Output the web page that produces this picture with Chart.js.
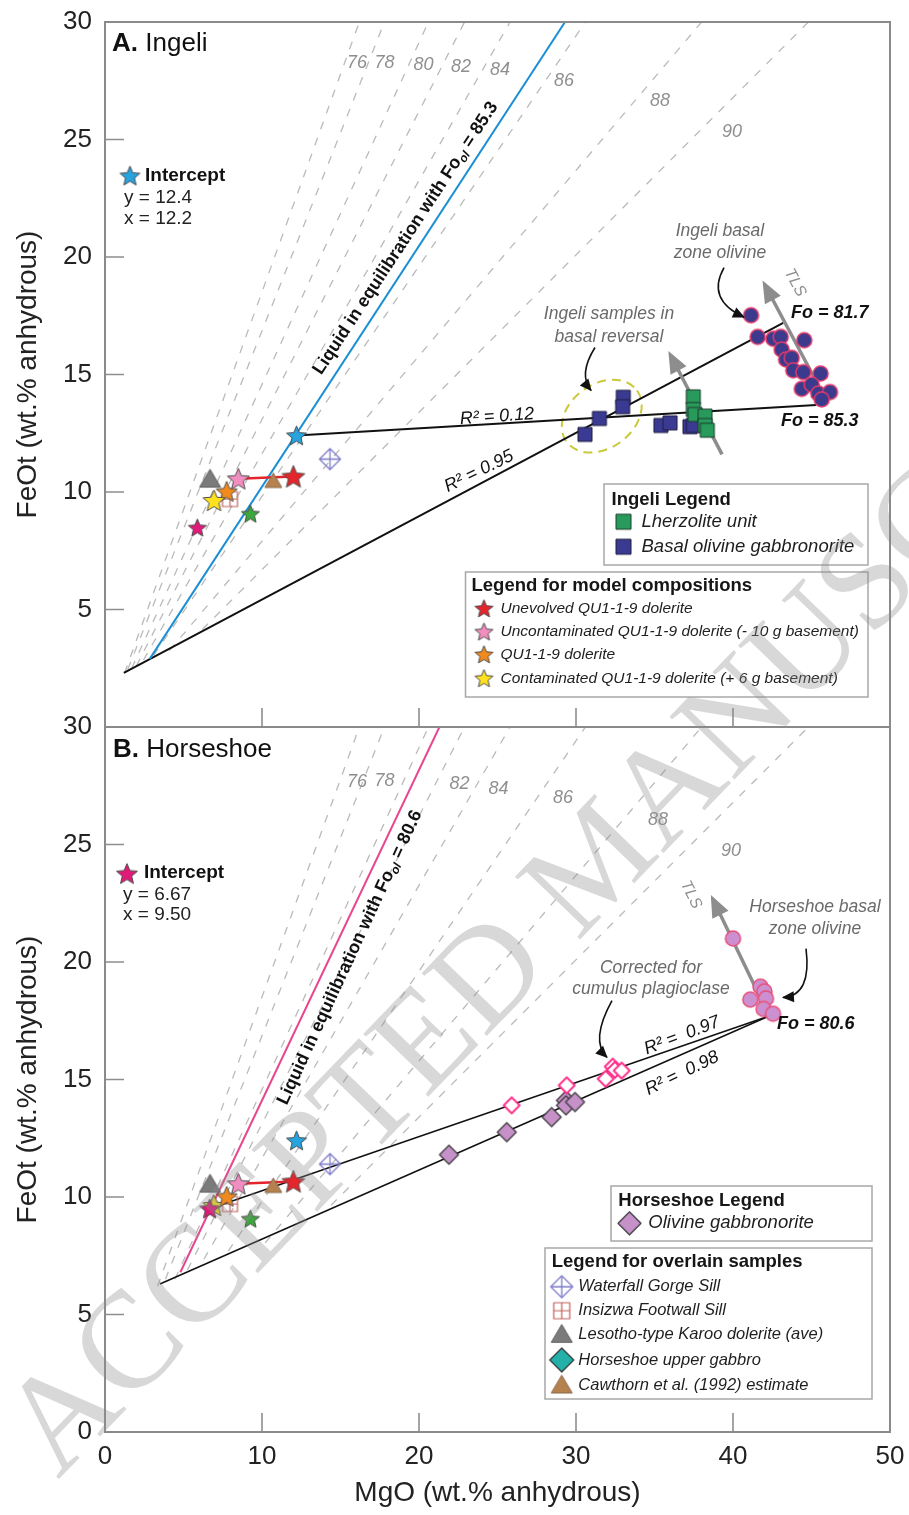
<!DOCTYPE html>
<html lang="en">
<head>
<meta charset="utf-8">
<title>FeOt vs MgO: Ingeli and Horseshoe</title>
<script src="https://cdn.jsdelivr.net/npm/chart.js@4.4.1/dist/chart.umd.min.js"></script>
<style>
  html, body { margin: 0; padding: 0; background: #fff; }
  #stage { position: relative; width: 909px; height: 1515px; overflow: hidden; background: #fff; }
  #stage canvas { position: absolute; left: 0; }
  #panelA { top: 0; z-index: 1; }
  #panelB { top: 700px; z-index: 2; }
  #stamp { top: 0; z-index: 3; pointer-events: none; }
</style>
</head>
<body>
<div id="stage">
  <canvas id="panelA" width="909" height="750" style="width:909px;height:750px"></canvas>
  <canvas id="panelB" width="909" height="815" style="width:909px;height:815px"></canvas>
  <canvas id="stamp" width="909" height="1515" style="width:909px;height:1515px"></canvas>
</div>
<script>
// ---------------------------------------------------------------------------
// Data (MgO, FeOt in wt.% anhydrous)
// ---------------------------------------------------------------------------
const mgoTicks = [0, 10, 20, 30, 40, 50];
const feoTicks = [0, 5, 10, 15, 20, 25, 30];

// Olivine-liquid Fo isopleths: start point and MgO where each leaves the panel top
const foValues = [76, 78, 80, 82, 84, 86, 88, 90];
const foTopMgO = [16.2, 17.8, 20.6, 22.9, 25.8, 30.6, 38.0, 44.8];
const foStartA = [[1.25, 2.3], [1.45, 2.45], [1.7, 2.5], [2.0, 2.6], [2.45, 2.85], [3.1, 3.05], [4.1, 3.25], [6.2, 4.15]];
const foStartB = [[3.35, 6.2], [3.85, 6.5], [4.45, 6.5], [5.25, 6.9], [6.3, 7.35], [7.85, 7.7], [10.2, 8.05], [14.4, 9.65]];
const foLabelA = [[16.05, 28.26], [17.8, 28.26], [20.29, 28.19], [22.68, 28.09], [25.16, 27.96], [29.24, 27.49], [35.35, 26.62], [39.94, 25.33]];
const foLabelB = [[16.05, 27.66], [17.8, 27.71], null, [22.58, 27.58], [25.06, 27.37], [29.17, 26.99], [35.22, 26.05], [39.87, 24.73]];

// Liquids in equilibrium with the most primitive olivine
const liquidFo = ['85.3', '80.6'];
const liquidA = [[2.85, 2.9], [29.3, 30]];
const liquidB = [[4.8, 6.8], [21.3, 30]];

// Regression lines
const fitA95 = [[1.2, 2.3], [43.2, 17.2]];
const fitA12 = [[12.2, 12.4], [45.3, 13.7]];
const fitB98 = [[3.5, 6.3], [42.3, 17.7]];
const fitB97 = [[6.67, 9.5], [42.3, 17.7]];
const endFoA = ['81.7', '85.3'];
const endFoB = ['80.6'];
const r2A = ['0.12', '0.95'];
const r2B = ['0.97', '0.98'];

// Trend-line (TLS) arrows
const tlsA1 = [[39.3, 11.6], [36.0, 15.85]];
const tlsA2 = [[45.7, 14.2], [42.0, 18.85]];
const tlsB = [[42.3, 17.7], [38.7, 22.7]];

// Intercepts
const interceptIngeli = [12.2, 12.4];
const interceptHorseshoe = [6.67, 9.50];
const horseshoeStarInA = [5.88, 8.48];

// Model compositions
const modelNames = ['Unevolved QU1-1-9 dolerite', 'Uncontaminated QU1-1-9 dolerite (- 10 g basement)', 'QU1-1-9 dolerite', 'Contaminated QU1-1-9 dolerite (+ 6 g basement)'];
const modelMgO = [12.0, 8.49, 7.75, 6.94];
const modelFeO = [10.66, 10.56, 10.02, 9.64];
const greenStar = [9.26, 9.07];

// Overlain samples
const overlainNames = ['Waterfall Gorge Sill', 'Insizwa Footwall Sill', 'Lesotho-type Karoo dolerite (ave)', 'Horseshoe upper gabbro', 'Cawthorn et al. (1992) estimate'];
const waterfallGorge = [14.33, 11.4];
const insizwaFootwall = [7.96, 9.7];
const lesothoDolerite = [6.69, 10.55];
const cawthorn1992 = [10.72, 10.47];

// Ingeli
const lherzMgO = [37.47, 37.47, 37.58, 38.22, 38.22, 38.36];
const lherzFeO = [14.05, 13.51, 13.30, 13.23, 12.83, 12.63];
const bognMgO = [30.57, 31.49, 33.01, 32.97, 35.41, 35.99, 37.26, 37.47];
const bognFeO = [12.45, 13.13, 14.03, 13.63, 12.83, 12.94, 12.78, 12.83];
const ingeliOlMgO = [41.15, 41.57, 42.57, 43.04, 44.54, 43.10, 43.38, 43.74, 43.84, 44.48, 45.58, 44.38, 45.01, 45.43, 46.18, 45.65];
const ingeliOlFeO = [17.52, 16.6, 16.52, 16.6, 16.46, 16.06, 15.64, 15.71, 15.18, 15.10, 15.04, 14.39, 14.57, 14.19, 14.25, 13.94];

// Horseshoe
const hsGnMgO = [21.91, 25.59, 28.45, 29.36, 29.36, 29.94];
const hsGnFeO = [11.8, 12.76, 13.4, 14.11, 13.9, 14.04];
const hsCorrMgO = [25.9, 29.41, 31.89, 32.34, 32.48, 32.91];
const hsCorrFeO = [13.9, 14.75, 15.03, 15.55, 15.41, 15.38];
const hsOlMgO = [40.0, 41.75, 42.0, 42.1, 41.1, 41.95, 42.55];
const hsOlFeO = [21.0, 18.95, 18.75, 18.45, 18.4, 18.0, 17.8];

// ---------------------------------------------------------------------------
// Styling helpers
// ---------------------------------------------------------------------------
const FAMILY = "'Liberation Sans', Arial, Helvetica, sans-serif";
const F = spec => spec + ' ' + FAMILY;
const ISO_GRAY = '#8f8f8f';
const NOTE_GRAY = '#6a6a6a';

function makeSymbol(kind, w, fill, stroke, lw) {
  lw = lw || 1;
  const pad = Math.ceil(lw) + 2;
  const S = Math.ceil(w) + 2 * pad;
  const c = document.createElement('canvas');
  c.width = S; c.height = S;
  const g = c.getContext('2d');
  const m = S / 2, r = w / 2;
  g.lineWidth = lw;
  g.lineJoin = 'round';
  g.beginPath();
  if (kind === 'star') {
    for (let i = 0; i < 10; i++) {
      const rr = i % 2 ? r * 0.45 : r;
      const a = -Math.PI / 2 + i * Math.PI / 5;
      g.lineTo(m + rr * Math.cos(a), m + 0.08 * r + rr * Math.sin(a));
    }
    g.closePath();
  } else if (kind === 'circle') {
    g.arc(m, m, r, 0, Math.PI * 2);
  } else if (kind === 'square' || kind === 'squareCross') {
    g.rect(m - r, m - r, w, w);
  } else if (kind === 'diamond' || kind === 'diamondCross') {
    g.moveTo(m, m - r); g.lineTo(m + r, m); g.lineTo(m, m + r); g.lineTo(m - r, m); g.closePath();
  } else if (kind === 'triangle') {
    const h = 0.85 * w;
    g.moveTo(m, m - 0.55 * h); g.lineTo(m + r, m + 0.45 * h); g.lineTo(m - r, m + 0.45 * h); g.closePath();
  }
  if (fill) { g.fillStyle = fill; g.fill(); }
  if (stroke) { g.strokeStyle = stroke; g.stroke(); }
  if (kind === 'diamondCross' || kind === 'squareCross') {
    g.beginPath();
    g.moveTo(m, m - r); g.lineTo(m, m + r);
    g.moveTo(m - r, m); g.lineTo(m + r, m);
    g.stroke();
  }
  return c;
}

const OUT = '#4d4d4d';
const SYM = {
  red: makeSymbol('star', 24, '#e3262b', OUT, 1),
  pink: makeSymbol('star', 23, '#f28dbf', OUT, 1),
  orange: makeSymbol('star', 22, '#f08a1d', OUT, 1),
  yellow: makeSymbol('star', 23, '#ffe11f', OUT, 1),
  green: makeSymbol('star', 19, '#3aa83a', OUT, 1),
  blue: makeSymbol('star', 21, '#27a3dd', OUT, 1),
  magentaA: makeSymbol('star', 19, '#e01a78', OUT, 1),
  magentaB: makeSymbol('star', 21, '#e01a78', OUT, 1),
  grayTri: makeSymbol('triangle', 21, '#7b7b7b', '#5c5c5c', 1),
  brownTri: makeSymbol('triangle', 17, '#b5814f', '#8a6a4a', 1),
  waterfall: makeSymbol('diamondCross', 21, null, '#7f7cc8', 1.3),
  insizwa: makeSymbol('squareCross', 15, null, '#c0625c', 1.2),
  lherz: makeSymbol('square', 14, '#279a5c', '#1e3d2c', 1),
  bogn: makeSymbol('square', 14, '#3b3a92', '#1e1e40', 1),
  olA: makeSymbol('circle', 15, '#3c3a8d', '#e23a6a', 1.5),
  olB: makeSymbol('circle', 15, '#cc8fcf', '#e8507a', 1.5),
  ogn: makeSymbol('diamond', 19, '#c690c9', '#3a3a3a', 1.2),
  corr: makeSymbol('diamond', 16, '#ffffff', '#ff2a88', 1.8),
  // legend and note icons
  lgRed: makeSymbol('star', 19, '#e3262b', OUT, 1),
  lgPink: makeSymbol('star', 19, '#f28dbf', OUT, 1),
  lgOrange: makeSymbol('star', 19, '#f08a1d', OUT, 1),
  lgYellow: makeSymbol('star', 19, '#ffe11f', OUT, 1),
  lgLherz: makeSymbol('square', 15, '#279a5c', '#1e3d2c', 1),
  lgBogn: makeSymbol('square', 15, '#3b3a92', '#1e1e40', 1),
  lgOgn: makeSymbol('diamond', 23, '#c690c9', '#3a3a3a', 1.2),
  lgWaterfall: makeSymbol('diamondCross', 22, null, '#7f7cc8', 1.3),
  lgInsizwa: makeSymbol('squareCross', 16, null, '#c0625c', 1.2),
  lgGrayTri: makeSymbol('triangle', 21, '#7b7b7b', '#5c5c5c', 1),
  lgTeal: makeSymbol('diamond', 24, '#22b0a8', '#333333', 1.2),
  lgBrownTri: makeSymbol('triangle', 21, '#b5814f', '#8a6a4a', 1),
  noteBlue: makeSymbol('star', 21, '#27a3dd', OUT, 1),
  noteMagenta: makeSymbol('star', 22, '#e01a78', OUT, 1)
};

// z: larger values are painted later (on top)
function lineDs(points, color, width, dash, z, extra) {
  return Object.assign({
    data: points.map(p => ({ x: p[0], y: p[1] })),
    showLine: true, pointRadius: 0, borderColor: color, borderWidth: width,
    borderDash: dash || [], fill: false, tension: 0, order: 100 - z
  }, extra || {});
}
function markDs(xs, ys, img, z) {
  return {
    data: xs.map((x, i) => ({ x: x, y: ys[i] })),
    showLine: false, pointStyle: img, pointRadius: 6, order: 100 - z
  };
}
const one = (p, img, z) => markDs([p[0]], [p[1]], img, z);
const tieLine = [[modelMgO[1], modelFeO[1]], [modelMgO[0], modelFeO[0]]];

// ---------------------------------------------------------------------------
// Drawing helpers for the decoration plugin
// ---------------------------------------------------------------------------
function drawRuns(ctx, x, y, runs, align, rotDeg) {
  ctx.save();
  ctx.translate(x, y);
  ctx.rotate(rotDeg * Math.PI / 180);
  ctx.textBaseline = 'middle';
  ctx.textAlign = 'left';
  let total = 0;
  runs.forEach(r => { ctx.font = r.f; r.w = ctx.measureText(r.t).width; total += r.w; });
  let cx = align === 'center' ? -total / 2 : (align === 'right' ? -total : 0);
  runs.forEach(r => {
    ctx.font = r.f;
    ctx.fillStyle = r.c || '#111';
    ctx.fillText(r.t, cx, r.dy || 0);
    cx += r.w;
  });
  ctx.restore();
}

function arrowHead(ctx, fx, fy, tx, ty, len, halfW, color, extend) {
  const dx = tx - fx, dy = ty - fy, L = Math.hypot(dx, dy) || 1;
  const ux = dx / L, uy = dy / L;
  const px = tx + ux * extend, py = ty + uy * extend;
  const bx = px - ux * len, by = py - uy * len;
  ctx.save();
  ctx.beginPath();
  ctx.moveTo(px, py);
  ctx.lineTo(bx - uy * halfW, by + ux * halfW);
  ctx.lineTo(bx + uy * halfW, by - ux * halfW);
  ctx.closePath();
  ctx.fillStyle = color;
  ctx.fill();
  ctx.restore();
}

function drawLegend(ctx, L, top) {
  ctx.save();
  const [x0, y0, x1, y1] = L.box;
  ctx.strokeStyle = '#a8a8a8';
  ctx.lineWidth = 1.5;
  ctx.strokeRect(x0, y0 - top, x1 - x0, y1 - y0);
  ctx.textBaseline = 'middle';
  ctx.textAlign = 'left';
  ctx.fillStyle = '#161616';
  ctx.font = L.titleFont;
  ctx.fillText(L.title, L.titleX, L.titleY - top);
  ctx.font = L.itemFont;
  L.items.forEach(it => {
    const img = it.sym;
    ctx.drawImage(img, L.symX - img.width / 2, it.y - top - img.height / 2);
    ctx.fillStyle = '#1e1e1e';
    ctx.fillText(it.text, L.textX, it.y - top);
  });
  ctx.restore();
}

const panelDecor = {
  id: 'panelDecor',
  beforeDatasetsDraw(chart, _args, o) {
    const ctx = chart.ctx, X = chart.scales.x, Y = chart.scales.y;
    if (o.ellipse) {
      const e = o.ellipse;
      ctx.save();
      ctx.beginPath();
      ctx.ellipse(X.getPixelForValue(e.x), Y.getPixelForValue(e.y), e.rx, e.ry, e.rot * Math.PI / 180, 0, Math.PI * 2);
      ctx.setLineDash([9, 6]);
      ctx.lineWidth = 2;
      ctx.strokeStyle = e.color;
      ctx.stroke();
      ctx.restore();
    }
  },
  afterDatasetsDraw(chart, _args, o) {
    const ctx = chart.ctx, X = chart.scales.x, Y = chart.scales.y;
    const P = (x, y) => [X.getPixelForValue(x), Y.getPixelForValue(y)];
    chart.data.datasets.forEach((ds, i) => {
      if (!ds.arrowHead) return;
      const pts = chart.getDatasetMeta(i).data;
      const a = pts[0], b = pts[pts.length - 1];
      arrowHead(ctx, a.x, a.y, b.x, b.y, 22, 9, ds.borderColor, 4);
    });
    (o.callouts || []).forEach(c => {
      const [x0, y0] = P(c.from[0], c.from[1]);
      const [cx, cy] = P(c.ctrl[0], c.ctrl[1]);
      const [x1, y1] = P(c.to[0], c.to[1]);
      ctx.save();
      ctx.beginPath();
      ctx.moveTo(x0, y0);
      ctx.quadraticCurveTo(cx, cy, x1, y1);
      ctx.lineWidth = 1.6;
      ctx.strokeStyle = '#111';
      ctx.stroke();
      ctx.restore();
      arrowHead(ctx, cx, cy, x1, y1, 12, 5.5, '#111', 1);
    });
    (o.icons || []).forEach(ic => {
      const [x, y] = P(ic.x, ic.y);
      ctx.drawImage(ic.img, x - ic.img.width / 2, y - ic.img.height / 2);
    });
    (o.texts || []).forEach(t => {
      const [x, y] = P(t.x, t.y);
      drawRuns(ctx, x, y, t.runs, t.align || 'left', t.rot || 0);
    });
    (o.legends || []).forEach(L => drawLegend(ctx, L, o.pageTop));
  },
  afterDraw(chart) {
    const ctx = chart.ctx, A = chart.chartArea, X = chart.scales.x, Y = chart.scales.y;
    ctx.save();
    ctx.strokeStyle = '#8e8e8e';
    ctx.lineWidth = 1.6;
    ctx.beginPath();
    feoTicks.slice(1, -1).forEach(v => {
      const y = Y.getPixelForValue(v);
      ctx.moveTo(A.left, y); ctx.lineTo(A.left + 19, y);
    });
    mgoTicks.slice(1, -1).forEach(v => {
      const x = X.getPixelForValue(v);
      ctx.moveTo(x, A.bottom); ctx.lineTo(x, A.bottom - 19);
    });
    ctx.stroke();
    ctx.lineWidth = 2;
    ctx.strokeStyle = '#8a8a8a';
    ctx.strokeRect(A.left, A.top, A.right - A.left, A.bottom - A.top);
    ctx.restore();
  }
};

// ---------------------------------------------------------------------------
// Annotation content
// ---------------------------------------------------------------------------
const liquidRuns = fo => [
  { t: 'Liquid in equilibration with Fo', f: F('bold 18px') },
  { t: 'ol', f: F('italic bold 12px'), dy: 5 },
  { t: ' = ' + fo, f: F('bold 18px') }
];
const foLabelTexts = pos => foValues.map((fo, i) => pos[i] ? {
  x: pos[i][0], y: pos[i][1], align: 'center',
  runs: [{ t: String(fo), f: F('italic 18px'), c: ISO_GRAY }]
} : null).filter(Boolean);
const note = (x, y, t) => ({ x, y, align: 'center', runs: [{ t, f: F('italic 17.5px'), c: NOTE_GRAY }] });
const plain = (x, y, t) => ({ x, y, runs: [{ t, f: F('19px'), c: '#222' }] });

const textsA = [
  { x: 0.45, y: 29.07, runs: [{ t: 'A.', f: F('bold 26px') }, { t: ' Ingeli', f: F('26px') }] },
  { x: 2.55, y: 23.46, runs: [{ t: 'Intercept', f: F('bold 19px') }] },
  plain(1.21, 22.52, 'y = ' + interceptIngeli[1].toFixed(1)),
  plain(1.21, 21.63, 'x = ' + interceptIngeli[0].toFixed(1)),
  ...foLabelTexts(foLabelA),
  { x: 43.95, y: 18.91, rot: 62, align: 'center', runs: [{ t: 'TLS', f: F('italic 16px'), c: ISO_GRAY }] },
  note(39.17, 21.12, 'Ingeli basal'),
  note(39.17, 20.18, 'zone olivine'),
  note(32.1, 17.55, 'Ingeli samples in'),
  note(32.1, 16.61, 'basal reversal'),
  { x: 43.69, y: 17.63, runs: [{ t: 'Fo = ' + endFoA[0], f: F('italic bold 18px') }] },
  { x: 43.06, y: 13.04, runs: [{ t: 'Fo = ' + endFoA[1], f: F('italic bold 18px') }] },
  { x: 24.97, y: 13.21, rot: -4, align: 'center', runs: [{ t: 'R\u00b2 = ' + r2A[0], f: F('italic 18px') }] },
  { x: 23.82, y: 10.88, rot: -26, align: 'center', runs: [{ t: 'R\u00b2 = ' + r2A[1], f: F('italic 18px') }] },
  { x: 19.15, y: 20.8, rot: -56.7, align: 'center', runs: liquidRuns(liquidFo[0]) }
];

const textsB = [
  { x: 0.51, y: 29.03, runs: [{ t: 'B.', f: F('bold 26px') }, { t: ' Horseshoe', f: F('26px') }] },
  { x: 2.48, y: 23.8, runs: [{ t: 'Intercept', f: F('bold 19px') }] },
  plain(1.15, 22.86, 'y = 6.67'),
  plain(1.15, 22.01, 'x = 9.50'),
  ...foLabelTexts(foLabelB),
  { x: 37.32, y: 22.86, rot: 64, align: 'center', runs: [{ t: 'TLS', f: F('italic 16px'), c: ISO_GRAY }] },
  note(45.22, 22.35, 'Horseshoe basal'),
  note(45.22, 21.42, 'zone olivine'),
  note(34.78, 19.76, 'Corrected for'),
  note(34.78, 18.83, 'cumulus plagioclase'),
  { x: 42.8, y: 17.38, runs: [{ t: 'Fo = ' + endFoB[0], f: F('italic bold 18px') }] },
  { x: 36.75, y: 16.87, rot: -21, align: 'center', runs: [{ t: 'R\u00b2 =  ' + r2B[0], f: F('italic 18px') }] },
  { x: 36.75, y: 15.26, rot: -26, align: 'center', runs: [{ t: 'R\u00b2 =  ' + r2B[1], f: F('italic 18px') }] },
  { x: 15.6, y: 20.19, rot: -65.2, align: 'center', runs: liquidRuns(liquidFo[1]) }
];

const legendsA = [
  {
    box: [604, 484, 868, 565], title: 'Ingeli Legend', titleX: 611.5, titleY: 500,
    titleFont: F('bold 18.5px'), itemFont: F('italic 18.5px'), symX: 623.5, textX: 641.5,
    items: [
      { sym: SYM.lgLherz, text: 'Lherzolite unit', y: 521.7 },
      { sym: SYM.lgBogn, text: 'Basal olivine gabbronorite', y: 546.7 }
    ]
  },
  {
    box: [465.5, 572, 868, 697], title: 'Legend for model compositions', titleX: 471.5, titleY: 585.5,
    titleFont: F('bold 18.5px'), itemFont: F('italic 15.5px'), symX: 484, textX: 500.5,
    items: [
      { sym: SYM.lgRed, text: modelNames[0], y: 608.5 },
      { sym: SYM.lgPink, text: modelNames[1], y: 631.7 },
      { sym: SYM.lgOrange, text: modelNames[2], y: 654.5 },
      { sym: SYM.lgYellow, text: modelNames[3], y: 678.3 }
    ]
  }
];

const legendsB = [
  {
    box: [611, 1186, 872, 1241], title: 'Horseshoe Legend', titleX: 618.3, titleY: 1201,
    titleFont: F('bold 18.5px'), itemFont: F('italic 18.5px'), symX: 629.5, textX: 648.3,
    items: [{ sym: SYM.lgOgn, text: 'Olivine gabbronorite', y: 1223.3 }]
  },
  {
    box: [545, 1248, 872, 1399], title: 'Legend for overlain samples', titleX: 551.7, titleY: 1262,
    titleFont: F('bold 18.5px'), itemFont: F('italic 16.5px'), symX: 561.7, textX: 578.3,
    items: [
      { sym: SYM.lgWaterfall, text: overlainNames[0], y: 1286.7 },
      { sym: SYM.lgInsizwa, text: overlainNames[1], y: 1310.7 },
      { sym: SYM.lgGrayTri, text: overlainNames[2], y: 1334.3 },
      { sym: SYM.lgTeal, text: overlainNames[3], y: 1360 },
      { sym: SYM.lgBrownTri, text: overlainNames[4], y: 1385 }
    ]
  }
];

// ---------------------------------------------------------------------------
// Datasets
// ---------------------------------------------------------------------------
const ISO_DASH = [8, 9];
const datasetsA = [
  ...foValues.map((fo, i) => lineDs([foStartA[i], [foTopMgO[i], 30]], '#bababa', 1.3, ISO_DASH, 1)),
  lineDs(liquidA, '#1b8fd4', 2, null, 2),
  lineDs(fitA95, '#111111', 2, null, 2),
  lineDs(fitA12, '#111111', 2, null, 2),
  lineDs(tlsA1, '#8d8d8d', 3.5, null, 3, { arrowHead: true }),
  lineDs(tlsA2, '#8d8d8d', 3.5, null, 3, { arrowHead: true }),
  lineDs(tieLine, '#e6232b', 2.5, null, 4),
  markDs(bognMgO, bognFeO, SYM.bogn, 10),
  markDs(lherzMgO, lherzFeO, SYM.lherz, 11),
  markDs(ingeliOlMgO, ingeliOlFeO, SYM.olA, 12),
  one(insizwaFootwall, SYM.insizwa, 13),
  one(lesothoDolerite, SYM.grayTri, 14),
  one(cawthorn1992, SYM.brownTri, 15),
  one(waterfallGorge, SYM.waterfall, 16),
  one(horseshoeStarInA, SYM.magentaA, 17),
  one([modelMgO[2], modelFeO[2]], SYM.orange, 18),
  one([modelMgO[3], modelFeO[3]], SYM.yellow, 19),
  one([modelMgO[1], modelFeO[1]], SYM.pink, 20),
  one([modelMgO[0], modelFeO[0]], SYM.red, 21),
  one(greenStar, SYM.green, 22),
  one(interceptIngeli, SYM.blue, 23)
];

const datasetsB = [
  ...foValues.map((fo, i) => lineDs([foStartB[i], [foTopMgO[i], 30]], '#bababa', 1.3, ISO_DASH, 1)),
  lineDs(liquidB, '#e8468f', 2, null, 2),
  lineDs(fitB98, '#111111', 1.5, null, 2),
  lineDs(fitB97, '#111111', 1.5, null, 2),
  lineDs(tlsB, '#8d8d8d', 3.5, null, 3, { arrowHead: true }),
  lineDs(tieLine, '#e6232b', 2.5, null, 4),
  markDs(hsGnMgO, hsGnFeO, SYM.ogn, 10),
  markDs(hsCorrMgO, hsCorrFeO, SYM.corr, 11),
  markDs(hsOlMgO, hsOlFeO, SYM.olB, 12),
  one(insizwaFootwall, SYM.insizwa, 13),
  one(lesothoDolerite, SYM.grayTri, 14),
  one(cawthorn1992, SYM.brownTri, 15),
  one(waterfallGorge, SYM.waterfall, 16),
  one([modelMgO[3], modelFeO[3]], SYM.yellow, 17),
  one(interceptHorseshoe, SYM.magentaB, 18),
  one([modelMgO[2], modelFeO[2]], SYM.orange, 19),
  one([modelMgO[1], modelFeO[1]], SYM.pink, 20),
  one([modelMgO[0], modelFeO[0]], SYM.red, 21),
  one(greenStar, SYM.green, 22),
  one(interceptIngeli, SYM.blue, 23)
];

// ---------------------------------------------------------------------------
// Charts
// ---------------------------------------------------------------------------
// Scales get a fixed footprint and no overhang padding, so both panels share
// the same plotting rectangle width.
function pinScale(size) {
  return function (s) {
    if (s.isHorizontal()) s.height = s.options.display ? size : 0;
    else s.width = size;
    s.paddingTop = 0; s.paddingBottom = 0; s.paddingLeft = 0; s.paddingRight = 0;
  };
}

function makePanel(id, datasets, showX, padding, hideZero, decor) {
  return new Chart(document.getElementById(id), {
    type: 'scatter',
    data: { datasets },
    options: {
      responsive: false, animation: false, devicePixelRatio: 1, events: [],
      layout: { padding },
      plugins: { legend: { display: false }, tooltip: { enabled: false }, panelDecor: decor },
      scales: {
        x: {
          type: 'linear', min: mgoTicks[0], max: mgoTicks[mgoTicks.length - 1], display: showX,
          grid: { display: false, drawTicks: false }, border: { display: false },
          ticks: { stepSize: 10, autoSkip: false, maxRotation: 0, padding: 9, color: '#222', font: { family: FAMILY, size: 26 } },
          title: { display: true, text: 'MgO (wt.% anhydrous)', color: '#222', font: { family: FAMILY, size: 28 }, padding: { top: 0, bottom: 5 } },
          afterFit: pinScale(83)
        },
        y: {
          type: 'linear', min: feoTicks[0], max: feoTicks[feoTicks.length - 1],
          grid: { display: false, drawTicks: false }, border: { display: false },
          ticks: {
            stepSize: 5, padding: 13, color: '#222', font: { family: FAMILY, size: 26 },
            callback: v => (hideZero && v === 0) ? '' : String(v)
          },
          title: { display: true, text: 'FeOt (wt.% anhydrous)', color: '#222', font: { family: FAMILY, size: 28 }, padding: { top: 11, bottom: 0 } },
          afterFit: pinScale(105)
        }
      }
    },
    plugins: [panelDecor]
  });
}

makePanel('panelA', datasetsA, false, { left: 0, right: 19, top: 22, bottom: 23 }, true, {
  pageTop: 0,
  ellipse: { x: 31.64, y: 13.23, rx: 43.6, ry: 32, rot: -36, color: '#c9c93c' },
  icons: [{ x: 1.59, y: 23.46, img: SYM.noteBlue }],
  texts: textsA,
  callouts: [
    { from: [39.43, 19.55], ctrl: [38.28, 18.19], to: [40.70, 17.44] },
    { from: [31.21, 16.15], ctrl: [30.13, 15.0], to: [30.96, 14.32] }
  ],
  legends: legendsA
});

makePanel('panelB', datasetsB, true, { left: 0, right: 19, top: 27, bottom: 0 }, false, {
  pageTop: 700,
  icons: [{ x: 1.4, y: 23.76, img: SYM.noteMagenta }],
  texts: textsB,
  callouts: [
    { from: [44.65, 20.57], ctrl: [45.03, 18.57], to: [43.18, 18.49] },
    { from: [32.29, 18.36], ctrl: [30.89, 16.66], to: [31.97, 15.94] }
  ],
  legends: legendsB
});

// Diagonal stamp across the page
(function stamp() {
  const g = document.getElementById('stamp').getContext('2d');
  g.save();
  g.translate(58, 1480);
  g.rotate(-46 * Math.PI / 180);
  g.font = "138px 'Liberation Serif', 'Times New Roman', serif";
  g.fillStyle = 'rgba(140,140,140,0.34)';
  g.fillText('ACCEPTED MANUSCRIPT', 0, 0);
  g.restore();
})();
</script>
</body>
</html>
